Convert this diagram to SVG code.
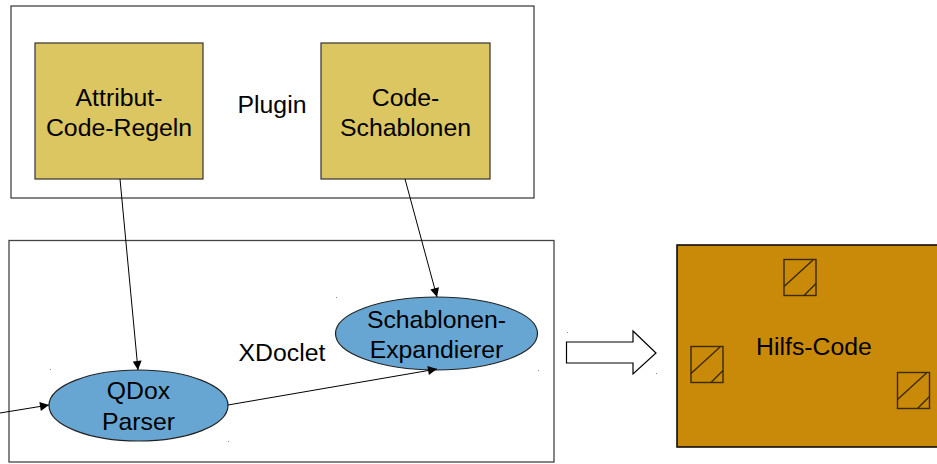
<svg xmlns="http://www.w3.org/2000/svg" width="937" height="464" viewBox="0 0 937 464">
<style>
  .txt{font-family:"Liberation Sans",Arial,sans-serif;font-size:24.8px;fill:#000;text-anchor:middle}
  .frame{fill:#fff;stroke:#444;stroke-width:1.3}
  .card{fill:#dbc661;stroke:#333;stroke-width:1.2}
  .oval{fill:#67a6d2;stroke:#222;stroke-width:1.2}
  .conn{fill:none;stroke:#000;stroke-width:1;marker-end:url(#ah)}
  .doc{fill:none;stroke:#3a2a00;stroke-width:1.4}
  .dot{fill:#888}
</style>
<defs>
  <marker id="ah" viewBox="0 0 10 10" refX="10" refY="5" markerWidth="10" markerHeight="9" markerUnits="userSpaceOnUse" orient="auto">
    <path d="M0,0 L10,5 L0,10 z" fill="#000"/>
  </marker>
  <g id="docicon">
    <rect x="0" y="0" width="32" height="36"/>
    <line x1="0" y1="27" x2="29" y2="0.5"/>
    <line x1="20" y1="36" x2="32" y2="24"/>
  </g>
</defs>
<rect width="937" height="464" fill="#fff"/>

<g id="plugin">
  <rect class="frame" x="11" y="6" width="523" height="192"/>
  <text class="txt" x="272" y="113">Plugin</text>
</g>
<g id="attribut-code-regeln">
  <rect class="card" x="35" y="43" width="168" height="136"/>
  <text class="txt" x="119" y="106">Attribut-</text>
  <text class="txt" x="119" y="136">Code-Regeln</text>
</g>
<g id="code-schablonen">
  <rect class="card" x="321" y="43" width="169" height="136"/>
  <text class="txt" x="405.5" y="106">Code-</text>
  <text class="txt" x="405.5" y="136">Schablonen</text>
</g>

<g id="xdoclet">
  <rect class="frame" x="9" y="240.5" width="545" height="221.5"/>
  <text class="txt" x="282" y="361">XDoclet</text>
</g>
<g id="qdox-parser">
  <ellipse class="oval" cx="138.5" cy="405.5" rx="89.5" ry="35.5"/>
  <text class="txt" x="138.5" y="399">QDox</text>
  <text class="txt" x="138.5" y="430">Parser</text>
</g>
<g id="schablonen-expandierer">
  <ellipse class="oval" cx="436.5" cy="333.5" rx="101" ry="36.5"/>
  <text class="txt" x="436.5" y="328">Schablonen-</text>
  <text class="txt" x="436.5" y="358">Expandierer</text>
</g>

<g id="hilfs-code">
  <rect x="677" y="245" width="262" height="202" fill="#c98a0a" stroke="#000" stroke-width="1.5"/>
  <text class="txt" x="814" y="355">Hilfs-Code</text>
  <use href="#docicon" class="doc" x="784" y="259.5"/>
  <use href="#docicon" class="doc" x="691" y="346.5"/>
  <use href="#docicon" class="doc" x="897.5" y="372.5"/>
</g>

<g id="connectors">
  <line class="conn" x1="120" y1="179" x2="138" y2="370"/>
  <line class="conn" x1="405" y1="179" x2="437" y2="297"/>
  <line class="conn" x1="0" y1="413" x2="49" y2="405"/>
  <line class="conn" x1="228" y1="405" x2="437" y2="369"/>
  <path d="M566.5,342 L633,342 L633,331 L656,353 L633,374 L633,363 L566.5,363 Z" fill="#fff" stroke="#000" stroke-width="1.2"/>
</g>

<g id="marks">
  <rect class="dot" x="50" y="369" width="1" height="1"/>
  <rect class="dot" x="228" y="441" width="1" height="1"/>
  <rect class="dot" x="336" y="297" width="1" height="1"/>
  <rect class="dot" x="538" y="370" width="1" height="1"/>
  <rect class="dot" x="567" y="332" width="1" height="1"/>
  <rect class="dot" x="656" y="373" width="1" height="1"/>
</g>
</svg>
